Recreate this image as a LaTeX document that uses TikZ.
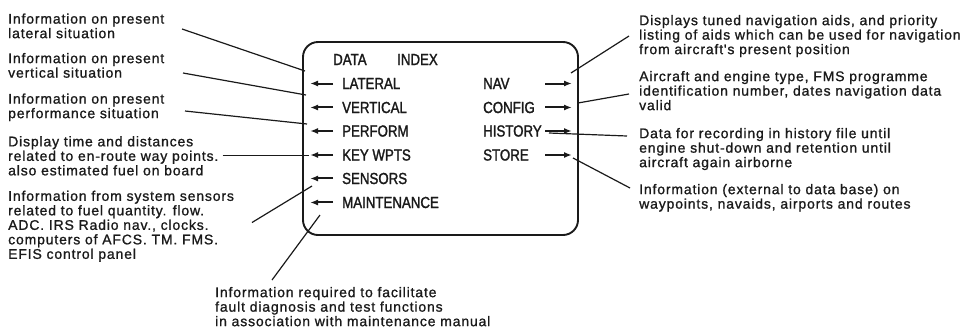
\documentclass[tikz,border=0pt]{standalone}
\usepackage{fontspec}
\setmainfont{Liberation Sans}
\newfontfamily\DescFont[LetterSpace=6,FakeBold=1.1]{Liberation Sans}
\newfontfamily\ScreenFont[FakeStretch=0.83,FakeBold=1.6]{Liberation Sans}
\usetikzlibrary{arrows.meta}
\definecolor{ScanInk}{HTML}{1A1A1A}
\tikzset{
  every node/.style={text=ScanInk},
  screen/.style={draw=ScanInk, line width=1.9pt, rounded corners=15pt, minimum width=275pt, minimum height=193pt, inner sep=0pt},
  item/.style={font=\ScreenFont\fontsize{16}{18}\selectfont, anchor=base west, inner sep=0pt},
  note/.style={font=\DescFont\fontsize{14}{14.5}\selectfont, align=left, anchor=north west, inner sep=0pt},
  leader/.style={draw=ScanInk, line width=1.2pt},
  pointer/.style={-{Latex[length=8pt,width=6pt]}, draw=ScanInk, line width=2pt},
}
\begin{document}
\begin{tikzpicture}[x=1pt,y=-1pt]
  \useasboundingbox (0,0) rectangle (980,330);
  % display page
  \node[screen] (screen) at (440.5,138.5) {};
  \node[item] (data) at (333,65) {DATA};
  \node[item] (index) at (397,65) {INDEX};
  \coordinate (lcol) at (333,0);
  \coordinate (rcol) at (545,0);
  \foreach \id/\t/\y in {lat/LATERAL/89,ver/VERTICAL/113,perf/PERFORM/136.5,wpts/KEY WPTS/160.5,sens/SENSORS/184,maint/MAINTENANCE/208}{
    \node[item] (\id) at (342,\y) {\t};
    \draw[pointer] (lcol |- \id.west) -- ++(-23,0);
  }
  \foreach \id/\t/\y in {nav/NAV/89,config/CONFIG/113,hist/HISTORY/136.5,store/STORE/160.5}{
    \node[item] (\id) at (483,\y) {\t};
    \draw[pointer] (rcol |- \id.west) -- ++(27,0);
  }
  % notes, left side
  \node[note] (lat-note) at (8,13.3) {Information on present\\lateral situation};
  \node[note] (ver-note) at (8,52.8) {Information on present\\vertical situation};
  \node[note] (perf-note) at (8,93.3) {Information on present\\performance situation};
  \node[note] (wpts-note) at (8,136) {Display time and distances\\related to en-route way points.\\also estimated fuel on board};
  \node[note] (sens-note) at (8,190.5) {Information from system sensors\\related to fuel quantity. flow.\\ADC. IRS Radio nav., clocks.\\computers of AFCS. TM. FMS.\\EFIS control panel};
  \node[note] (maint-note) at (215,286.8) {Information required to facilitate\\fault diagnosis and test functions\\in association with maintenance manual};
  % notes, right side
  \node[note] (nav-note) at (639,14.8) {Displays tuned navigation aids, and priority\\listing of aids which can be used for navigation\\from aircraft's present position};
  \node[note] (config-note) at (639,70.8) {Aircraft and engine type, FMS programme\\identification number, dates navigation data\\valid};
  \node[note] (hist-note) at (639,127.8) {Data for recording in history file until\\engine shut-down and retention until\\aircraft again airborne};
  \node[note] (store-note) at (639,183.8) {Information (external to data base) on\\waypoints, navaids, airports and routes};
  % leader lines
  \coordinate (lat-end) at (305,71);
  \coordinate (ver-end) at (306,95);
  \coordinate (perf-end) at (307,124);
  \coordinate (wpts-end) at (309,0);
  \coordinate (sens-end) at (312,186);
  \coordinate (maint-end) at (320,215);
  \coordinate (nav-end) at (571,73);
  \coordinate (config-end) at (578,103);
  \coordinate (hist-end) at (549,133);
  \coordinate (store-end) at (573,158);
  \draw[leader] ([shift={(174,15.7)}]lat-note.north west) -- (lat-end);
  \draw[leader] ([shift={(175,20.2)}]ver-note.north west) -- (ver-end);
  \draw[leader] ([shift={(177,17.7)}]perf-note.north west) -- (perf-end);
  \draw[leader] ([xshift=4pt]wpts-note.east) -- (wpts-note.east -| wpts-end);
  \draw[leader] ([shift={(244,32)}]sens-note.north west) -- (sens-end);
  \draw[leader] ([shift={(57,-6.8)}]maint-note.north west) -- (maint-end);
  \draw[leader] ([shift={(-10,21.2)}]nav-note.north west) -- (nav-end);
  \draw[leader] ([shift={(-10,23.2)}]config-note.north west) -- (config-end);
  \draw[leader] ([shift={(-12,8.2)}]hist-note.north west) -- (hist-end);
  \draw[leader] ([shift={(-9,4.2)}]store-note.north west) -- (store-end);
\end{tikzpicture}
\end{document}
